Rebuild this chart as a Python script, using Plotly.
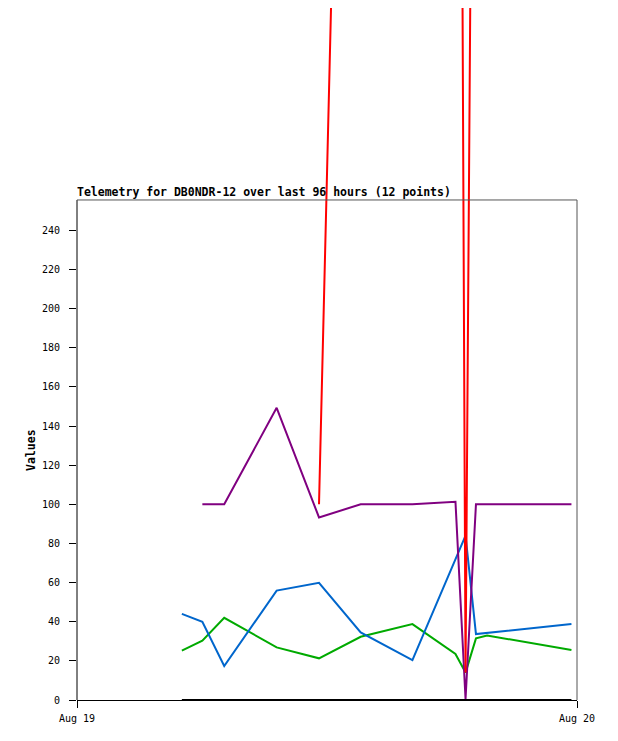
import plotly.graph_objects as go

# sample times (Aug 19) and telemetry channels
times = [
    "2024-08-19 05:02", "2024-08-19 06:01", "2024-08-19 07:04", "2024-08-19 09:35",
    "2024-08-19 11:37", "2024-08-19 13:37", "2024-08-19 16:06", "2024-08-19 18:10",
    "2024-08-19 18:39", "2024-08-19 19:09", "2024-08-19 19:41", "2024-08-19 23:44",
]
ch_black = [0, 0, 0, 0, 0, 0, 0, 0, 0, 0, 0, 0]
ch_green = [25.2, 30.3, 42, 26.9, 21.3, 32.3, 38.8, 23.5, 14, 31.5, 33, 25.5]
ch_blue = [44, 40, 17.4, 55.9, 59.9, 34.5, 20.4, 72, 84, 33.7, 34.3, 38.8]
ch_purple = [None, 100, 100, 149.3, 93.3, 100, 100, 101.3, 0.5, 100, 100, 100]
ch_red = [None, None, None, None, 100, 980, 1050, 1160, 14, 770, 800, 850]

y_ticks = list(range(0, 241, 20))
x_ticks = ["2024-08-19", "2024-08-20"]
x_labels = ["Aug 19", "Aug 20"]

title = "Telemetry for DB0NDR-12 over last 96 hours (12 points)"
mono = "DejaVu Sans Mono"
y_top = 255.5     # top of the drawn frame
y_view = 353.6    # plot area goes up to the page top so lines are not clipped

fig = go.Figure()
series = [
    (ch_green, "#00aa00"),
    (ch_blue, "#0066cc"),
    (ch_purple, "#800080"),
    (ch_red, "#ff0000"),
    (ch_black, "#000000"),
]
for vals, col in series:
    fig.add_trace(go.Scatter(x=times, y=vals, mode="lines",
                             line=dict(color=col, width=2), showlegend=False))

# frame: black left axis, grey top and right edges
fig.add_shape(type="line", xref="paper", yref="y", x0=0, x1=0, y0=0, y1=y_top,
              line=dict(color="black", width=1))
fig.add_shape(type="line", xref="paper", yref="y", x0=0, x1=1, y0=y_top, y1=y_top,
              line=dict(color="#555555", width=1))
fig.add_shape(type="line", xref="paper", yref="y", x0=1, x1=1, y0=0, y1=y_top,
              line=dict(color="#555555", width=1))

fig.add_annotation(text="<b>" + title + "</b>", xref="paper", yref="y",
                   x=0, y=y_top, xanchor="left", yanchor="bottom", showarrow=False,
                   font=dict(family=mono, size=11.5, color="black"),
                   xshift=-2, yshift=-1)
fig.add_annotation(text="<b>Values</b>", xref="paper", yref="y", x=0, y=y_top / 2,
                   textangle=-90, xanchor="center", yanchor="middle", showarrow=False,
                   xshift=-46, font=dict(family=mono, size=11.5, color="black"))

fig.update_xaxes(range=x_ticks, tickvals=x_ticks, ticktext=x_labels,
                 showgrid=False, zeroline=False, showline=True, linecolor="black",
                 ticks="outside", ticklen=7, tickcolor="black", ticklabelstandoff=2,
                 tickfont=dict(family=mono, size=10, color="black"))
fig.update_yaxes(range=[0, y_view], tickvals=y_ticks, showgrid=False, zeroline=False,
                 showline=False, ticks="outside", ticklen=7, tickcolor="black",
                 ticklabelstandoff=7,
                 tickfont=dict(family=mono, size=10, color="black"))

# the page body adds 8px around the figure, so the figure is sized to fit
fig.update_layout(width=610, height=733, margin=dict(l=69, r=41, t=0, b=41),
                  plot_bgcolor="white", paper_bgcolor="white")

fig.write_html("out.html")
